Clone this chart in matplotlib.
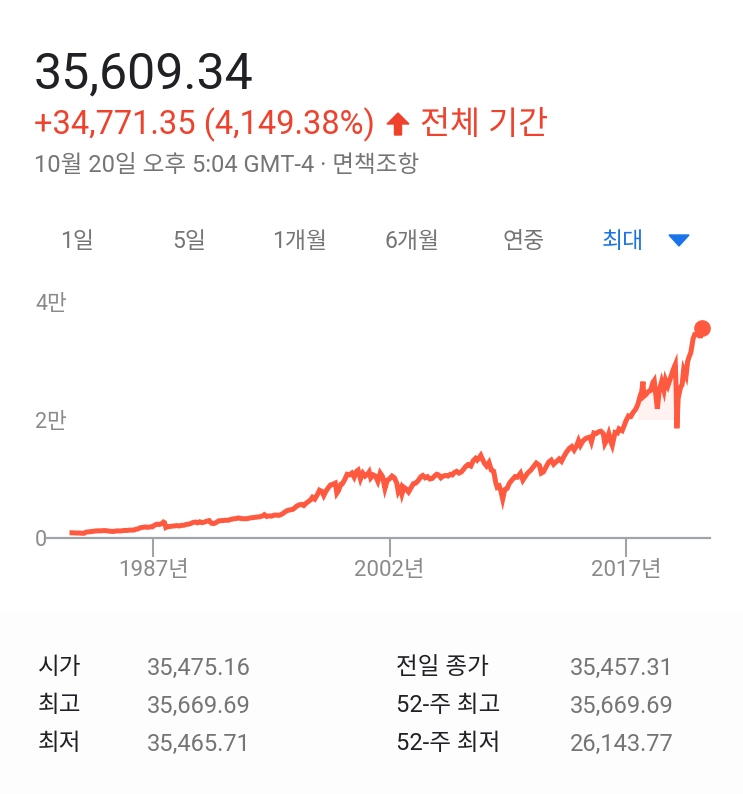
import numpy as np
import matplotlib.pyplot as plt
from matplotlib.patches import Polygon, Rectangle

# 다우 지수 (전체 기간) - 차트에서 읽은 값
years = [1981.85, 1982.00, 1982.15, 1982.30, 1982.45, 1982.60, 1982.75, 1982.90,
         1983.05, 1983.20, 1983.35, 1983.50, 1983.65, 1983.80, 1983.95,
         1984.10, 1984.25, 1984.40, 1984.55, 1984.70, 1984.85,
         1985.00, 1985.15, 1985.30, 1985.45, 1985.60, 1985.75, 1985.90,
         1986.05, 1986.20, 1986.35, 1986.50, 1986.65, 1986.80, 1986.95,
         1987.10, 1987.25, 1987.40, 1987.55, 1987.65, 1987.72, 1987.80, 1987.90,
         1988.05, 1988.20, 1988.35, 1988.50, 1988.65, 1988.80, 1988.95,
         1989.10, 1989.25, 1989.40, 1989.55, 1989.70, 1989.80, 1989.95,
         1990.10, 1990.25, 1990.40, 1990.55, 1990.70, 1990.85,
         1991.00, 1991.15, 1991.30, 1991.45, 1991.60, 1991.75, 1991.95,
         1992.10, 1992.25, 1992.40, 1992.55, 1992.70, 1992.85,
         1993.00, 1993.15, 1993.30, 1993.45, 1993.60, 1993.75, 1993.95,
         1994.05, 1994.20, 1994.35, 1994.50, 1994.65, 1994.80, 1994.95,
         1995.10, 1995.25, 1995.40, 1995.55, 1995.70, 1995.85, 1995.98,
         1996.10, 1996.25, 1996.40, 1996.55, 1996.70, 1996.85, 1996.98,
         1997.10, 1997.25, 1997.40, 1997.55, 1997.70, 1997.82, 1997.95,
         1998.10, 1998.25, 1998.40, 1998.55, 1998.65, 1998.75, 1998.90,
         1999.00, 1999.15, 1999.30, 1999.45, 1999.60, 1999.75, 1999.90,
         2000.00, 2000.15, 2000.30, 2000.45, 2000.60, 2000.70, 2000.80, 2000.95,
         2001.10, 2001.25, 2001.40, 2001.55, 2001.70, 2001.85, 2001.98,
         2002.15, 2002.30, 2002.45, 2002.55, 2002.70, 2002.78, 2002.90,
         2003.05, 2003.20, 2003.35, 2003.50, 2003.65, 2003.80, 2003.98,
         2004.10, 2004.25, 2004.40, 2004.55, 2004.70, 2004.85, 2004.98,
         2005.10, 2005.25, 2005.40, 2005.55, 2005.70, 2005.85, 2005.98,
         2006.10, 2006.25, 2006.40, 2006.55, 2006.70, 2006.85, 2006.98,
         2007.15, 2007.30, 2007.45, 2007.55, 2007.65, 2007.78, 2007.90,
         2008.00, 2008.15, 2008.30, 2008.45, 2008.60, 2008.72, 2008.82, 2008.95,
         2009.05, 2009.17, 2009.30, 2009.45, 2009.60, 2009.75, 2009.95,
         2010.10, 2010.30, 2010.45, 2010.60, 2010.75, 2010.95,
         2011.10, 2011.30, 2011.50, 2011.62, 2011.75, 2011.95,
         2012.10, 2012.25, 2012.40, 2012.60, 2012.75, 2012.90,
         2013.05, 2013.20, 2013.40, 2013.55, 2013.70, 2013.85, 2013.98,
         2014.10, 2014.25, 2014.40, 2014.55, 2014.70, 2014.80, 2014.95,
         2015.10, 2015.25, 2015.40, 2015.55, 2015.65, 2015.75, 2015.90,
         2016.05, 2016.12, 2016.30, 2016.45, 2016.55, 2016.75, 2016.90, 2016.98,
         2017.15, 2017.30, 2017.45, 2017.60, 2017.75, 2017.90, 2017.98,
         2018.07, 2018.12, 2018.25, 2018.40, 2018.55, 2018.70, 2018.78, 2018.85, 2018.98,
         2019.10, 2019.25, 2019.40, 2019.50, 2019.65, 2019.80, 2019.98,
         2020.12, 2020.17, 2020.22, 2020.30, 2020.45, 2020.55, 2020.65, 2020.80, 2020.90, 2020.98,
         2021.10, 2021.25, 2021.35, 2021.50, 2021.60, 2021.70, 2021.80]

values = [880, 875, 830, 850, 810, 790, 1000, 1040,
          1080, 1130, 1200, 1220, 1210, 1250, 1260,
          1200, 1160, 1110, 1140, 1210, 1190,
          1210, 1280, 1270, 1320, 1340, 1340, 1470,
          1550, 1760, 1800, 1880, 1800, 1880, 1900,
          2200, 2350, 2290, 2450, 2700, 2600, 1780, 1900,
          1950, 2000, 2050, 2100, 2040, 2150, 2160,
          2300, 2350, 2480, 2650, 2700, 2580, 2750,
          2600, 2700, 2850, 2950, 2500, 2450,
          2630, 2900, 2950, 2950, 3020, 3000, 3170,
          3250, 3300, 3400, 3300, 3270, 3250,
          3300, 3400, 3450, 3500, 3550, 3600, 3750,
          3950, 3650, 3750, 3700, 3850, 3900, 3830,
          3950, 4200, 4500, 4700, 4780, 4850, 5100,
          5400, 5600, 5700, 5500, 5900, 6200, 6450,
          6900, 6600, 7300, 8100, 7900, 7200, 7900,
          8500, 9000, 9100, 9300, 7600, 8000, 9100,
          9200, 9900, 10800, 10700, 11000, 10300, 11300,
          11500, 10000, 11000, 10500, 10800, 11200, 10200, 10700,
          10500, 9600, 11000, 10400, 8400, 9800, 10000,
          10500, 10200, 9300, 7800, 8500, 7500, 8600,
          8300, 7800, 8500, 9200, 9300, 9700, 10400,
          10600, 10200, 10400, 10000, 10100, 10500, 10800,
          10700, 10200, 10500, 10600, 10500, 10800, 10700,
          11100, 11300, 11000, 11200, 11700, 12200, 12450,
          12200, 13100, 13500, 13200, 13500, 14000, 13300,
          12700, 12200, 12800, 11500, 11300, 9500, 8600, 8800,
          8000, 6600, 8200, 8400, 9300, 9800, 10400,
          10300, 11000, 9800, 10400, 11000, 11500,
          12000, 12700, 12300, 11000, 11200, 12200,
          12900, 13200, 12500, 13000, 13400, 13000,
          13800, 14500, 15200, 15500, 14900, 15600, 16500,
          15700, 16400, 16800, 17000, 17100, 16300, 17800,
          17700, 18000, 18100, 17700, 16000, 16500, 17700,
          16200, 15700, 17900, 17800, 18500, 18200, 19200, 19800,
          20700, 20600, 21300, 21800, 22700, 24200, 24700,
          26500, 24000, 24300, 24800, 25000, 26400, 26700, 25000, 21900,
          25000, 26500, 25000, 26800, 25800, 27000, 28500,
          29400, 25500, 18600, 23700, 25500, 26000, 28500, 27500, 29900, 30600,
          31400, 33800, 34500, 34600, 35300, 33900, 35609]

y_ticks = [0, 20000, 40000]
y_tick_labels = ['0', '2만', '4만']
x_ticks = [1987, 2002, 2017]
x_tick_labels = ['1987년', '2002년', '2017년']

tabs = ['1일', '5일', '1개월', '6개월', '연중', '최대']
stat_names_left = ['시가', '최고', '최저']
stat_values_left = ['35,475.16', '35,669.69', '35,465.71']
stat_names_right = ['전일 종가', '52-주 최고', '52-주 최저']
stat_values_right = ['35,457.31', '35,669.69', '26,143.77']

plt.rcParams['font.family'] = ['Roboto', 'Noto Sans CJK KR', 'DejaVu Sans']

W, H = 743, 794
RED = '#ff5a40'
GRAY = '#757575'
AXIS_GRAY = '#a0a4a8'

fig = plt.figure(figsize=(W / 100, H / 100), dpi=100)


def px(x, y):
    # 픽셀 좌표(위에서부터) -> figure 좌표
    return x / W, 1 - y / H


# 아래쪽 통계 영역의 옅은 배경
fig.patches.append(Rectangle((0, 0), 1, 1 - 612 / H, transform=fig.transFigure,
                             color='#fdfdfd', zorder=0))

# 헤더
fig.text(*px(34, 88), '35,609.34', fontsize=36, color='#202124', va='baseline')
fig.text(*px(34, 134), '+34,771.35 (4,149.38%)', fontsize=23.5, color='#f0412c', va='baseline')
ax0 = 388
arrow = Polygon([px(ax0 + 10, 113), px(ax0 + 21, 124), px(ax0 + 13.5, 124), px(ax0 + 13.5, 135),
                 px(ax0 + 6.5, 135), px(ax0 + 6.5, 124), px(ax0 - 1, 124)],
                closed=True, transform=fig.transFigure, color='#f0412c')
fig.patches.append(arrow)
fig.text(*px(420, 134), '전체 기간', fontsize=23.5, color='#f0412c', va='baseline')
fig.text(*px(34, 172), '10월 20일 오후 5:04 GMT-4 · 면책조항', fontsize=17,
         color=GRAY, va='baseline')

# 기간 탭
tab_x = [60, 172, 272, 384, 503, 602]
for name, x in zip(tabs, tab_x):
    color = '#1a73e8' if name == '최대' else GRAY
    fig.text(*px(x, 241), name, fontsize=16.5, color=color, va='center')
tri = Polygon([px(669, 235), px(689, 235), px(679, 246)], closed=True,
              transform=fig.transFigure, color='#1a73e8')
fig.patches.append(tri)

# 차트
ax = fig.add_axes([46 / W, 1 - 538 / H, (710 - 46) / W, (538 - 302) / H])
x = np.array(years)
y = np.array(values)
ax.plot(x, y, color=RED, lw=3.6, solid_joinstyle='miter', zorder=3, clip_on=False)
ax.plot(x[-1], y[-1], 'o', color=RED, ms=11, zorder=4, clip_on=False)

# 최근 구간 아래 옅은 그라데이션
mask = x >= 2017.7
fill = ax.fill_between(x[mask], y[mask], 20000, where=y[mask] >= 20000,
                       color='none', lw=0)
grad = np.zeros((100, 2, 4))
grad[..., 0], grad[..., 1], grad[..., 2] = 1.0, 0.35, 0.25
grad[..., 3] = np.linspace(0.08, 0.015, 100)[:, None]
img = ax.imshow(grad, extent=[2017.7, x[-1], 36000, 20000], aspect='auto',
                zorder=2, origin='upper')
img.set_clip_path(fill.get_paths()[0], transform=ax.transData)

ax.set_xlim(1980.2, 2022.32)
ax.set_ylim(0, 40000)
for side in ['top', 'right', 'left']:
    ax.spines[side].set_visible(False)
ax.spines['bottom'].set_color(AXIS_GRAY)
ax.spines['bottom'].set_linewidth(1.6)

ax.set_xticks(x_ticks, x_tick_labels)
ax.tick_params(axis='x', length=14, width=1.5, color=AXIS_GRAY, pad=2,
               labelsize=16, labelcolor='#8a8a8a')
ax.set_yticks(y_ticks, y_tick_labels)
ax.tick_params(axis='y', length=0, pad=11, labelsize=15.5, labelcolor='#8a8a8a')
for lab in ax.get_yticklabels():
    lab.set_horizontalalignment('left')
    lab.set_x(-11 / (710 - 46))
    lab.set_transform(ax.get_yaxis_transform())

# 통계 표
row_y = [668, 706, 744]
for i, yy in enumerate(row_y):
    fig.text(*px(38, yy), stat_names_left[i], fontsize=17, color='#202124', va='center')
    fig.text(*px(147, yy), stat_values_left[i], fontsize=17, color=GRAY, va='center')
    fig.text(*px(396, yy), stat_names_right[i], fontsize=17, color='#202124', va='center')
    fig.text(*px(570, yy), stat_values_right[i], fontsize=17, color=GRAY, va='center')

fig.savefig('out.png', dpi=100)
